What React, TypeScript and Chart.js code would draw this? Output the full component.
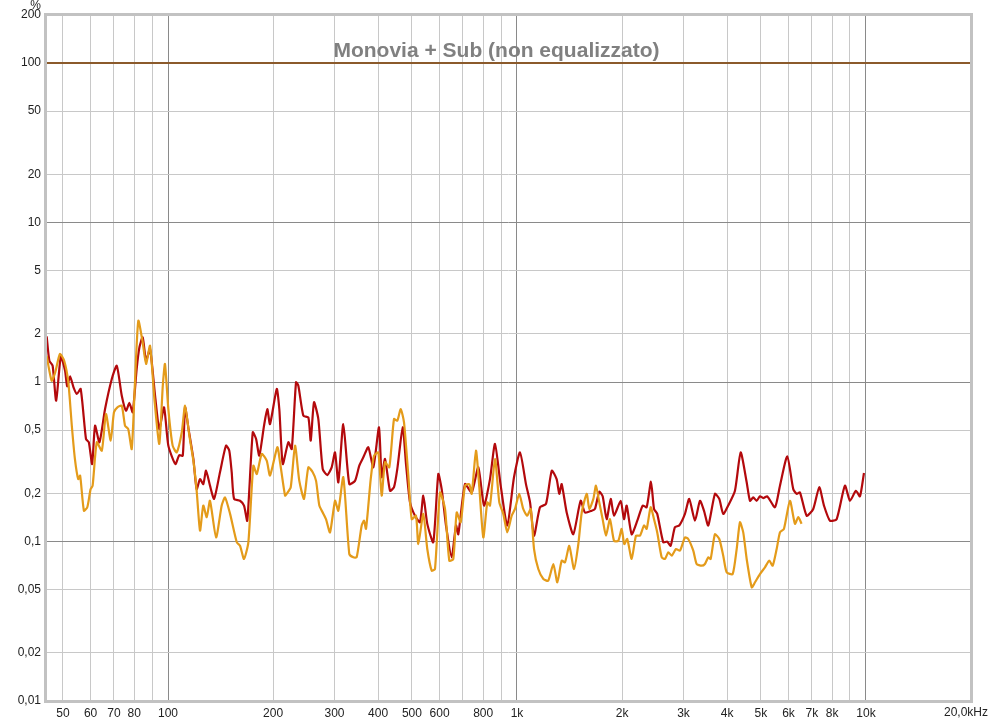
import React, { useEffect, useRef } from 'react';
import { Chart, registerables } from 'chart.js';

Chart.register(...registerables);

const TITLE = 'Monovia + Sub (non equalizzato)';
const X_MIN = 44.7;
const X_MAX = 20000;
const Y_MIN = 0.01;
const Y_MAX = 200;
const REF_LEVEL = 100;

const X_TICKS = [50, 60, 70, 80, 90, 100, 200, 300, 400, 500, 600, 700, 800, 900, 1000, 2000, 3000, 4000, 5000, 6000, 7000, 8000, 9000, 10000, 20000];
const X_LABELS: Record<number, string> = {
  50: '50', 60: '60', 70: '70', 80: '80', 100: '100', 200: '200', 300: '300', 400: '400', 500: '500', 600: '600', 800: '800',
  1000: '1k', 2000: '2k', 3000: '3k', 4000: '4k', 5000: '5k', 6000: '6k', 7000: '7k', 8000: '8k', 10000: '10k',
};
const X_END_LABEL = '20,0kHz';
const Y_TICKS = [0.01, 0.02, 0.05, 0.1, 0.2, 0.5, 1, 2, 5, 10, 20, 50, 100, 200];
const Y_UNIT = '%';

const redFreq = [
  44.9, 45.7, 46.7, 47.8, 49.3, 50.7, 51.4, 52.4, 53.6, 54.8,
  56.2, 58.2, 59.3, 60.6, 61.8, 63.6, 66.0, 69.0, 71.3, 73.7,
  75.8, 77.5, 79.2, 81.3, 82.8, 84.6, 86.5, 88.8, 91.8, 94.4,
  97.4, 100.2, 105, 107.7, 110.2, 111.9, 114.3, 118.2, 120.8, 123.5,
  126.2, 128.5, 131.9, 135.5, 140.9, 146.6, 149.8, 152.2, 154.6, 160.8,
  165.1, 168.7, 174.9, 178.8, 182.6, 188.4, 192.5, 196.0, 204.9, 208.4,
  213.2, 221.2, 226.2, 232.7, 236.3, 244.2, 252.4, 256.4, 262.0, 269.6,
  277.5, 286.0, 294.4, 301.0, 307.6, 317.9, 330.7, 343.4, 353.3, 362.8,
  374.9, 387.5, 402.3, 409.5, 418.6, 432.6, 444.2, 454.0, 470.5, 480.8,
  493.6, 510.2, 527.2, 538.9, 553.3, 575.6, 595.0, 608.4, 626.0, 650.0,
  668.7, 678.9, 709.6, 741.7, 774.7, 804.4, 836.9, 865.0, 898.1, 937.9,
  980.4, 1020, 1061, 1090, 1119, 1164, 1211, 1258, 1299, 1322,
  1343, 1388, 1450, 1522, 1566, 1637, 1673, 1721, 1760, 1807,
  1856, 1897, 1982, 2026, 2062, 2131, 2212, 2292, 2353, 2421,
  2470, 2523, 2625, 2695, 2756, 2835, 2917, 3029, 3116, 3236,
  3345, 3434, 3533, 3692, 3799, 3900, 4030, 4213, 4375, 4552,
  4652, 4754, 4862, 4969, 5078, 5214, 5486, 5670, 5950, 6190,
  6330, 6470, 6763, 7063, 7348, 7580, 7885, 8241, 8705, 9000,
  9361, 9612, 9870,
];
const redValues = [
  1.93, 1.36, 1.265, 0.763, 1.449, 1.177, 0.94, 1.086, 0.926, 0.841,
  0.904, 0.439, 0.419, 0.306, 0.532, 0.419, 0.677, 1.044, 1.265, 0.821,
  0.661, 0.739, 0.646, 1.206, 1.651, 1.906, 1.36, 1.61, 0.821, 0.507,
  0.694, 0.399, 0.306, 0.348, 0.345, 0.694, 0.52, 0.329, 0.213, 0.246,
  0.229, 0.278, 0.224, 0.185, 0.272, 0.399, 0.371, 0.272, 0.185, 0.18,
  0.168, 0.135, 0.484, 0.439, 0.345, 0.532, 0.677, 0.545, 0.904, 0.677,
  0.306, 0.419, 0.38, 0.996, 0.948, 0.615, 0.6, 0.429, 0.746, 0.586,
  0.285, 0.261, 0.292, 0.362, 0.235, 0.545, 0.229, 0.24, 0.299, 0.337,
  0.39, 0.292, 0.52, 0.253, 0.329, 0.208, 0.219, 0.285, 0.52, 0.306,
  0.176, 0.145, 0.132, 0.194, 0.129, 0.0989, 0.265, 0.213, 0.126, 0.0796,
  0.126, 0.111, 0.229, 0.203, 0.292, 0.168, 0.246, 0.409, 0.224, 0.126,
  0.253, 0.362, 0.229, 0.176, 0.1088, 0.164, 0.172, 0.278, 0.246, 0.199,
  0.229, 0.152, 0.111, 0.18, 0.152, 0.156, 0.16, 0.205, 0.192, 0.138,
  0.185, 0.145, 0.18, 0.138, 0.168, 0.111, 0.135, 0.168, 0.164, 0.237,
  0.16, 0.149, 0.0989, 0.0998, 0.094, 0.123, 0.126, 0.149, 0.185, 0.135,
  0.18, 0.156, 0.126, 0.199, 0.185, 0.149, 0.168, 0.208, 0.362, 0.235,
  0.18, 0.189, 0.18, 0.192, 0.187, 0.192, 0.164, 0.224, 0.342, 0.213,
  0.199, 0.203, 0.145, 0.16, 0.219, 0.168, 0.135, 0.138, 0.224, 0.18,
  0.208, 0.192, 0.269,
];

const orangeFreq = [
  44.9, 46.4, 47.5, 49.0, 50.4, 51.8, 53.0, 54.1, 55.3, 56.0,
  57.4, 58.7, 60.0, 60.8, 62.5, 64.6, 66.4, 68.5, 70.0, 71.6,
  73.7, 75.3, 76.9, 78.7, 80.4, 82.2, 84.6, 86.5, 88.8, 91.4,
  94.4, 96.6, 98.0, 100.2, 103.1, 105.9, 109.5, 111.9, 115.1, 118.2,
  120.8, 123.5, 126.2, 129.1, 131.9, 137.3, 142.5, 145.7, 150.6, 157.4,
  160.8, 165.1, 169.9, 175.6, 179.6, 185.6, 191.8, 196.0, 205.7, 209.4,
  216.4, 218.7, 224.7, 231.2, 237.8, 245.3, 252.4, 259.8, 265.6, 271.4,
  277.5, 283.6, 291.2, 301.0, 307.6, 317.9, 330.7, 339.6, 347.2, 358.9,
  364.4, 369.3, 380.9, 389.3, 400.5, 409.5, 418.6, 430.6, 444.2, 454.0,
  464.3, 474.5, 488.2, 499.3, 513.6, 521.5, 538.9, 553.3, 569.6, 582.1,
  601.8, 621.9, 639.8, 656.9, 671.8, 689.8, 709.6, 730.0, 741.7, 763.0,
  779.8, 800.8, 822.2, 836.9, 865.0, 889.9, 913.6, 937.9, 965.6, 987.0,
  1015, 1042, 1070, 1095, 1119, 1151, 1190, 1229, 1271, 1305,
  1343, 1373, 1412, 1457, 1499, 1533, 1584, 1612, 1655, 1684,
  1721, 1760, 1799, 1847, 1897, 1951, 1995, 2030, 2070, 2131,
  2193, 2251, 2312, 2353, 2416, 2470, 2523, 2598, 2655, 2714,
  2775, 2855, 2931, 3029, 3095, 3200, 3272, 3382, 3456, 3533,
  3589, 3692, 3799, 3900, 3989, 4150, 4261, 4355, 4450, 4552,
  4706, 4809, 4969, 5136, 5284, 5404, 5548, 5670, 5821, 6056,
  6259, 6397, 6541,
];
const orangeValues = [
  1.46, 1.019, 1.15, 1.498, 1.36, 0.996, 0.532, 0.329, 0.246, 0.259,
  0.156, 0.164, 0.213, 0.224, 0.419, 0.371, 0.63, 0.429, 0.646, 0.694,
  0.71, 0.532, 0.507, 0.38, 0.996, 2.423, 1.774, 1.297, 1.689, 0.782,
  0.409, 0.948, 1.297, 0.677, 0.399, 0.362, 0.484, 0.71, 0.461, 0.321,
  0.208, 0.117, 0.168, 0.142, 0.18, 0.106, 0.168, 0.189, 0.149, 0.0989,
  0.094, 0.0777, 0.0989, 0.299, 0.265, 0.354, 0.321, 0.259, 0.39, 0.314,
  0.194, 0.199, 0.219, 0.399, 0.24, 0.185, 0.292, 0.272, 0.24, 0.168,
  0.152, 0.138, 0.114, 0.18, 0.156, 0.253, 0.0835, 0.0796, 0.0796, 0.126,
  0.135, 0.12, 0.246, 0.345, 0.362, 0.194, 0.314, 0.292, 0.586, 0.572,
  0.677, 0.559, 0.259, 0.138, 0.145, 0.0964, 0.149, 0.0897, 0.0656, 0.0672,
  0.203, 0.16, 0.0758, 0.0777, 0.152, 0.132, 0.224, 0.229, 0.199, 0.371,
  0.219, 0.106, 0.176, 0.168, 0.329, 0.176, 0.149, 0.114, 0.145, 0.16,
  0.199, 0.16, 0.145, 0.16, 0.0897, 0.0672, 0.0582, 0.0568, 0.0723, 0.0555,
  0.0758, 0.0741, 0.094, 0.0672, 0.0964, 0.152, 0.199, 0.16, 0.185, 0.224,
  0.176, 0.138, 0.1088, 0.138, 0.101, 0.101, 0.12, 0.0964, 0.1037, 0.0777,
  0.1088, 0.1088, 0.126, 0.12, 0.164, 0.138, 0.114, 0.0796, 0.0777, 0.0856,
  0.0815, 0.0897, 0.0876, 0.106, 0.1037, 0.0876, 0.0723, 0.0705, 0.0723, 0.0796,
  0.0777, 0.111, 0.1037, 0.0815, 0.0641, 0.0625, 0.0897, 0.132, 0.114, 0.0777,
  0.0516, 0.0555, 0.0625, 0.0689, 0.0758, 0.0705, 0.0897, 0.114, 0.12, 0.18,
  0.129, 0.142, 0.129,
];

const isDecade = (v: number) => Math.abs(Math.log10(v) - Math.round(Math.log10(v))) < 1e-6;
const fmtY = (v: number) => String(v).replace('.', ',');

const FONT = '"Liberation Sans", Arial, sans-serif';

const overlayPlugin = {
  id: 'overlay',
  afterDraw(chart: any) {
    const { ctx, chartArea: a } = chart;
    ctx.save();
    ctx.strokeStyle = '#c2c2c2';
    ctx.lineWidth = 3;
    ctx.strokeRect(a.left - 0.5, a.top - 0.5, a.right - a.left + 1, a.bottom - a.top + 1);
    ctx.fillStyle = '#808080';
    ctx.font = 'bold 21px ' + FONT;
    ctx.textAlign = 'center';
    ctx.textBaseline = 'alphabetic';
    ctx.fillText(TITLE, chart.width / 2, 57);
    ctx.fillStyle = '#222';
    ctx.font = '12px ' + FONT;
    ctx.textAlign = 'right';
    ctx.fillText(Y_UNIT, 41, 9);
    const xs = chart.scales.x;
    ctx.fillText(X_END_LABEL, xs.getPixelForValue(X_MAX) + 17, 716);
    ctx.restore();
  },
};

export default function App() {
  const ref = useRef<HTMLCanvasElement>(null);
  useEffect(() => {
    if (!ref.current) return;
    const chart = new Chart(ref.current, {
      type: 'line',
      data: {
        datasets: [
          {
            data: [{ x: X_MIN, y: REF_LEVEL }, { x: X_MAX, y: REF_LEVEL }],
            borderColor: '#8b5a2b',
            borderWidth: 2,
            pointRadius: 0,
          },
          {
            data: redFreq.map((f, i) => ({ x: f, y: redValues[i] })),
            borderColor: '#b3090c',
            borderWidth: 2.2,
            pointRadius: 0,
            tension: 0.2,
          },
          {
            data: orangeFreq.map((f, i) => ({ x: f, y: orangeValues[i] })),
            borderColor: '#e49b1a',
            borderWidth: 2.2,
            pointRadius: 0,
            tension: 0.2,
          },
        ].reverse() as any,
      },
      options: {
        responsive: false,
        animation: false,
        parsing: false as any,
        layout: { padding: { top: 15, right: 22, left: 0, bottom: 0 } },
        plugins: { legend: { display: false }, tooltip: { enabled: false }, title: { display: false } },
        scales: {
          x: {
            type: 'logarithmic',
            min: X_MIN,
            max: X_MAX,
            afterBuildTicks: (s: any) => { s.ticks = X_TICKS.map((v) => ({ value: v })); },
            afterFit: (s: any) => { s.height = 22; s.paddingLeft = 0; s.paddingRight = 0; },
            border: { display: false },
            grid: {
              drawTicks: false,
              lineWidth: 1,
              color: (c: any) => (c.tick && isDecade(c.tick.value) ? '#8a8a8a' : '#c8c8c8'),
            },
            ticks: {
              autoSkip: false,
              maxRotation: 0,
              minRotation: 0,
              padding: 5,
              color: '#222',
              font: { family: FONT, size: 12 },
              callback: (v: any) => X_LABELS[Number(v)] ?? '',
            },
          },
          y: {
            type: 'logarithmic',
            min: Y_MIN,
            max: Y_MAX,
            afterBuildTicks: (s: any) => { s.ticks = Y_TICKS.map((v) => ({ value: v })); },
            afterFit: (s: any) => { s.width = 46; s.paddingTop = 0; s.paddingBottom = 0; },
            border: { display: false },
            grid: {
              drawTicks: false,
              lineWidth: 1,
              color: (c: any) => (c.tick && isDecade(c.tick.value) ? '#8a8a8a' : '#c8c8c8'),
            },
            ticks: {
              autoSkip: false,
              padding: 5,
              color: '#222',
              font: { family: FONT, size: 12 },
              callback: (v: any) => fmtY(Number(v)),
            },
          },
        },
      },
      plugins: [overlayPlugin],
    });
    return () => chart.destroy();
  }, []);
  return (
    <div style={{ position: 'fixed', left: 0, top: 0, width: 993, height: 723, background: '#fff' }}>
      <canvas ref={ref} width={993} height={723} style={{ display: 'block', width: 993, height: 723 }} />
    </div>
  );
}
